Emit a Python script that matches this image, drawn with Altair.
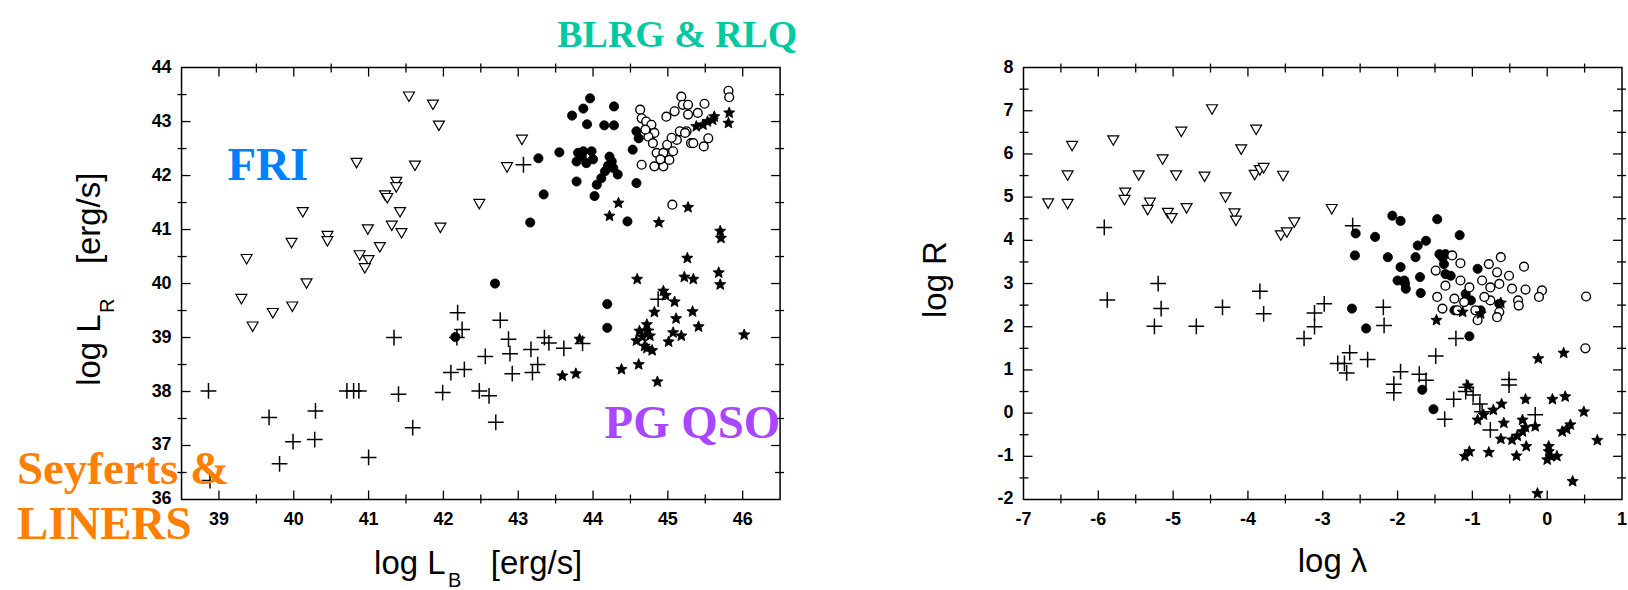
import altair as alt
import pandas as pd

# ---------------- data: left panel (log L_B, log L_R) ----------------
FRI_LB = [41.54, 41.86, 41.94, 43.05, 40.84, 41.62, 42.85, 41.37, 41.37, 41.22, 41.25, 42.48, 40.12, 41.42,
          41.31, 40.99, 41.96, 41.44, 40.45, 40.45, 39.97, 41.15, 40.88, 41.00, 40.95, 39.37, 40.17, 39.30,
          39.72, 39.98, 39.45]
FRI_LR = [43.46, 43.31, 42.92, 42.66, 42.23, 42.18, 42.15, 41.88, 41.78, 41.63, 41.58, 41.47, 41.32, 41.32,
          41.07, 41.00, 41.03, 40.93, 40.88, 40.78, 40.75, 40.67, 40.52, 40.43, 40.28, 40.45, 40.00, 39.71,
          39.45, 39.57, 39.20]

SEY_LB = [38.86, 39.67, 40.29, 39.99, 40.28, 39.81, 38.88, 40.71, 40.80, 40.87, 41.34, 41.40, 41.59, 41.00,
          41.99, 42.19, 42.25, 42.18, 42.10, 42.28, 42.56, 42.48, 42.61, 42.70, 42.76, 42.87, 42.89, 43.17,
          43.35, 43.41, 43.61, 43.86, 43.26, 43.19, 42.92, 44.87, 44.71, 43.07]
SEY_LR = [38.01, 37.52, 37.64, 37.07, 37.11, 36.66, 36.35, 38.01, 38.01, 38.01, 39.00, 37.95, 37.33, 36.78,
          37.98, 39.46, 39.15, 39.00, 38.35, 38.41, 38.65, 38.01, 37.92, 37.43, 39.32, 38.97, 38.70, 38.78,
          39.00, 38.90, 38.80, 38.89, 38.50, 38.35, 38.33, 39.71, 39.15, 42.20]

BLRG_LB = [43.96, 43.87, 43.72, 44.28, 43.92, 44.15, 44.28, 44.58, 44.61, 44.53, 43.27, 43.55, 43.80, 43.87,
           43.98, 43.78, 43.91, 44.22, 44.25, 44.27, 44.16, 44.11, 44.05, 44.33, 43.78, 44.02, 44.58, 44.46,
           43.34, 43.16, 42.69, 44.19, 44.19, 42.16, 43.85, 44.20, 44.00]
BLRG_LR = [43.43, 43.24, 43.11, 43.28, 42.95, 42.93, 42.93, 42.82, 42.69, 42.48, 42.32, 42.43, 42.42, 42.45,
           42.45, 42.26, 42.23, 42.35, 42.26, 42.14, 42.08, 41.95, 41.83, 42.02, 41.89, 41.62, 41.86, 41.15,
           41.65, 41.13, 40.00, 39.62, 39.18, 39.01, 42.35, 42.18, 42.30]

RLQ_LB = [44.63, 44.65, 44.71, 44.78, 44.82, 44.74, 44.80, 44.85, 44.94, 44.99, 45.07, 45.12, 45.16, 45.25,
          45.31, 44.82, 44.94, 44.65, 45.02, 44.98, 45.09, 45.18, 45.20, 45.27, 45.27, 45.40, 45.49, 45.54,
          45.48, 45.81, 45.82, 45.06, 45.23, 45.34, 44.90, 44.70, 45.05]
RLQ_LR = [43.22, 43.06, 43.00, 42.94, 42.79, 42.72, 42.60, 42.42, 42.42, 42.57, 42.45, 42.66, 42.82, 42.82,
          42.60, 42.17, 42.17, 42.20, 42.29, 43.09, 43.19, 43.46, 43.31, 43.31, 43.13, 43.16, 43.33, 42.69,
          42.54, 43.57, 43.45, 41.46, 42.79, 42.60, 42.30, 42.85, 42.70]

PGQ_LB = [44.34, 44.22, 44.88, 45.27, 45.70, 45.71, 45.82, 45.81, 45.60, 45.47, 45.38, 45.62, 45.26, 45.22,
          45.34, 44.59, 45.68, 45.70, 44.94, 44.97, 45.09, 44.82, 45.33, 45.11, 45.41, 44.62, 44.72, 44.66,
          44.76, 44.58, 44.69, 44.72, 44.79, 45.07, 45.18, 45.01, 46.02, 43.82, 44.61, 44.38, 43.59, 43.77,
          44.86, 44.72, 45.53]
PGQ_LR = [41.49, 41.25, 41.13, 41.41, 40.97, 40.84, 43.16, 42.97, 43.03, 42.94, 42.91, 43.09, 40.47, 40.12,
          40.08, 40.08, 40.20, 39.98, 39.86, 39.78, 39.66, 39.47, 39.48, 39.35, 39.20, 39.12, 39.12, 39.01,
          39.03, 38.94, 38.84, 38.80, 38.76, 39.09, 39.03, 38.92, 39.05, 38.97, 38.50, 38.41, 38.29, 38.33,
          38.18, 39.24, 43.00]

# ---------------- data: right panel (log lambda, log R) ----------------
FRI_LAM = [-6.67, -6.41, -6.41, -6.35, -5.80, -5.64, -5.65, -5.46, -5.31, -5.34, -5.14, -5.07, -5.02, -4.96,
           -4.89, -4.82, -4.58, -4.48, -4.30, -4.18, -4.16, -4.09, -3.89, -3.91, -3.84, -3.79, -3.53, -3.56,
           -3.48, -3.38, -2.88]
FRI_R = [4.85, 5.50, 4.84, 6.18, 6.31, 5.10, 4.93, 5.50, 4.87, 4.70, 5.87, 4.63, 4.51, 5.50, 6.51, 4.74, 5.47,
         7.03, 4.99, 4.62, 4.45, 6.10, 6.56, 5.51, 5.62, 5.67, 5.49, 4.11, 4.18, 4.41, 4.72]

SEY_LAM = [-5.92, -5.88, -5.20, -5.16, -5.25, -4.69, -4.34, -3.84, -3.79, -2.60, -2.98, -3.11, -3.11, -3.25,
           -2.19, -2.18, -1.22, -1.49, -2.64, -2.71, -2.80, -2.68, -2.40, -1.96, -2.05, -2.05, -1.71, -1.62,
           -1.25, -1.37, -1.09, -0.99, -0.90, -0.87, -0.76, -0.51, -0.51, -0.16, -1.08]
SEY_R = [4.30, 2.62, 3.00, 2.42, 2.01, 2.01, 2.45, 2.82, 2.30, 4.34, 2.53, 2.32, 2.00, 1.73, 2.45, 2.03, 1.73,
         1.32, 1.40, 1.15, 1.15, 0.93, 1.24, 0.96, 0.67, 0.47, 0.90, 0.76, 0.32, -0.14, 0.50, 0.42, 0.21, 0.03,
         -0.39, 0.78, 0.65, -0.04, 0.60]

BLRG_LAM = [-2.07, -1.96, -1.47, -1.17, -2.56, -2.30, -1.73, -1.62, -2.57, -2.13, -1.76, -1.96, -2.00, -1.91,
            -1.89, -1.70, -1.69, -1.44, -1.36, -1.38, -1.36, -1.29, -0.93, -1.09, -1.24, -1.02, -0.89, -0.64,
            -2.61, -2.42, -1.04, -1.67, -1.52, -1.40, -1.90]
BLRG_R = [4.57, 4.45, 4.49, 4.12, 4.16, 4.08, 3.88, 3.99, 3.65, 3.61, 3.61, 3.38, 3.07, 3.07, 2.88, 3.15, 2.78,
          3.68, 3.68, 3.45, 3.22, 3.18, 3.34, 2.76, 2.38, 2.61, 2.38, 2.53, 2.42, 1.96, 1.78, 0.54, 0.09, 3.60,
          3.00]

RLQ_LAM = [-1.27, -1.16, -0.62, -0.31, -1.49, -1.36, -1.16, -0.78, -0.67, -0.51, -0.87, -0.76, -0.64, -0.47,
           -0.29, -0.07, -0.11, -0.39, -0.38, -1.47, -1.40, -1.24, -1.11, -0.96, -0.93, -0.76, -0.64, -0.67,
           0.52, 0.51, -1.04, -0.84, -1.20]
RLQ_R = [3.65, 3.47, 3.61, 3.39, 3.30, 2.95, 3.07, 3.45, 3.26, 3.18, 3.07, 2.91, 2.99, 2.88, 2.86, 2.84, 2.69,
         2.61, 2.49, 2.69, 2.42, 2.65, 2.57, 2.38, 2.15, 2.61, 2.34, 2.22, 2.70, 1.50, 2.91, 2.69, 2.38]

PGQ_LAM = [-1.48, -0.12, 0.22, -1.13, -0.89, -0.62, -1.06, -1.10, -1.04, -0.78, -0.41, -0.28, -0.62, -0.47,
           -0.40, -0.33, -0.29, -0.16, -0.33, -0.58, -0.72, -0.61, -0.85, -0.93, -0.29, 0.07, 0.24, 0.49, 0.20,
           0.26, 0.31, 0.67, 0.02, 0.02, 0.05, 0.00, 0.13, 0.34, -0.13]
PGQ_R = [2.15, 1.26, 1.39, 2.34, 2.30, 2.55, 0.63, -1.00, -0.89, -0.91, -0.99, -0.77, -0.60, -0.62, -0.53,
         -0.43, -0.33, -0.31, -0.16, -0.23, 0.07, 0.21, -0.04, -0.16, 0.32, 0.32, 0.38, 0.03, -0.43, -0.37,
         -0.27, -0.63, -0.77, -0.89, -1.00, -1.08, -1.00, -1.58, -1.86]

# ---------------- axes ----------------
L_XDOM, L_YDOM = [38.5, 46.5], [36, 44]
L_XLAB = [39, 40, 41, 42, 43, 44, 45, 46]
L_YLAB = [36, 37, 38, 39, 40, 41, 42, 43, 44]
L_XMAJ = [39, 40, 41, 42, 43, 44, 45, 46]
L_XMIN = [39.5, 40.5, 41.5, 42.5, 43.5, 44.5, 45.5]
L_YMAJ = [37, 38, 39, 40, 41, 42, 43]
L_YMIN = [36.5, 37.5, 38.5, 39.5, 40.5, 41.5, 42.5, 43.5]

R_XDOM, R_YDOM = [-7, 1], [-2, 8]
R_XLAB = [-7, -6, -5, -4, -3, -2, -1, 0, 1]
R_YLAB = [-2, -1, 0, 1, 2, 3, 4, 5, 6, 7, 8]
R_XMAJ = [-6, -5, -4, -3, -2, -1, 0]
R_XMIN = [-6.5, -5.5, -4.5, -3.5, -2.5, -1.5, -0.5, 0.5]
R_YMAJ = [-1, 0, 1, 2, 3, 4, 5, 6, 7]
R_YMIN = [-1.5, -0.5, 0.5, 1.5, 2.5, 3.5, 4.5, 5.5, 6.5, 7.5]

W, H = 600, 433
SANS = "Liberation Sans"
SERIF = "Liberation Serif"
ONE = pd.DataFrame({"a": [0]})
PLUS = "M-1,0H1M0,-1V1"
STAR = ("M0,-1L0.265,-0.364L0.951,-0.309L0.428,0.139L0.588,0.809L0,0.45L-0.588,0.809"
        "L-0.428,0.139L-0.951,-0.309L-0.265,-0.364Z")


def xy(xs, ys):
    return pd.DataFrame({"x": xs, "y": ys})


def tick_layers(xs, ys, xmaj, xmin, ymaj, ymin, xlab, ylab):
    out = []
    dx_maj, dx_min = pd.DataFrame({"v": xmaj}), pd.DataFrame({"v": xmin})
    dy_maj, dy_min = pd.DataFrame({"v": ymaj}), pd.DataFrame({"v": ymin})
    rule = dict(color="black", strokeWidth=1.3)
    X = alt.X("v:Q", scale=xs, axis=None)
    Y = alt.Y("v:Q", scale=ys, axis=None)
    for d, a, b in [(dx_maj, H, H - 9), (dx_maj, 0, 9), (dx_min, H + 4, H - 5), (dx_min, -4, 5)]:
        out.append(alt.Chart(d).mark_rule(**rule).encode(x=X, y=alt.value(a), y2=alt.value(b)))
    for d, a, b in [(dy_maj, 0, 9), (dy_maj, W, W - 9), (dy_min, -4, 5), (dy_min, W + 4, W - 5)]:
        out.append(alt.Chart(d).mark_rule(**rule).encode(y=Y, x=alt.value(a), x2=alt.value(b)))
    lab = dict(font=SANS, fontSize=18, fontWeight="bold", color="black")
    dxl = pd.DataFrame({"v": xlab, "t": [str(v) for v in xlab]})
    dyl = pd.DataFrame({"v": ylab, "t": [str(v) for v in ylab]})
    out.append(alt.Chart(dxl).mark_text(align="center", baseline="top", **lab).encode(
        x=X, y=alt.value(H + 12), text="t:N"))
    out.append(alt.Chart(dyl).mark_text(align="right", baseline="middle", **lab).encode(
        y=Y, x=alt.value(-10), text="t:N"))
    return out


def text_layer(txt, x, y, size, color="black", font=SANS, weight="normal", angle=0, align="left"):
    return alt.Chart(ONE).mark_text(text=txt, font=font, fontSize=size, fontWeight=weight, color=color,
                                    align=align, baseline="alphabetic", angle=angle).encode(
        x=alt.value(x), y=alt.value(y))


def panel(xdom, ydom, xlab, ylab, xmaj, xmin, ymaj, ymin, groups, texts, extra=()):
    xs = alt.Scale(domain=xdom, nice=False, zero=False)
    ys = alt.Scale(domain=ydom, nice=False, zero=False)
    layers = tick_layers(xs, ys, xmaj, xmin, ymaj, ymin, xlab, ylab)
    for (gx, gy, style) in groups:
        layers.append(alt.Chart(xy(gx, gy)).mark_point(opacity=1, **style).encode(
            x=alt.X("x:Q", scale=xs, axis=None), y=alt.Y("y:Q", scale=ys, axis=None)))
    for t in texts:
        layers.append(text_layer(*t[:4], **(t[4] if len(t) > 4 else {})))
    layers.extend(extra)
    return alt.layer(*layers).properties(width=W, height=H)


S_TRI = dict(shape="triangle-down", filled=True, fill="white", stroke="black", strokeWidth=1.2, size=120)
S_PLUS = dict(shape=PLUS, filled=False, stroke="black", strokeWidth=1.5, size=250)
S_DOT = dict(shape="circle", filled=True, fill="black", stroke="black", strokeWidth=0.8, size=85)
S_OPEN = dict(shape="circle", filled=True, fill="white", stroke="black", strokeWidth=1.4, size=78)
S_STAR = dict(shape=STAR, filled=True, fill="black", stroke="black", strokeWidth=0.8, size=140)

BIG = 47
left_texts = [
    ("log L", -82, 319, 33, dict(angle=270)),
    ("R", -68, 246, 20, dict(angle=270)),
    ("[erg/s]", -82, 197, 33, dict(angle=270)),
    ("log L", 193, 508, 33),
    ("B", 267, 521, 20),
    ("[erg/s]", 310, 508, 33),
    ("BLRG & RLQ", 497, -21, 38, dict(color="#00C8A0", font=SERIF, weight="bold", align="center")),
    ("FRI", 46, 113, BIG, dict(color="#0080FF", font=SERIF, weight="bold")),
    ("PG QSO", 424, 371, BIG, dict(color="#A847FF", font=SERIF, weight="bold")),
    ("Seyferts &", -165, 417, BIG, dict(color="#FF8000", font=SERIF, weight="bold")),
    ("LINERS", -165, 473, BIG, dict(color="#FF8000", font=SERIF, weight="bold")),
]
right_texts = [
    ("log R", -78, 251, 33, dict(angle=270)),
    ("log \u03bb", 275, 506, 33),
]

anchor = alt.Chart(ONE).mark_rule(strokeOpacity=0).encode(
    x=alt.value(-181), x2=alt.value(-181), y=alt.value(-66), y2=alt.value(-65))

left = panel(L_XDOM, L_YDOM, L_XLAB, L_YLAB, L_XMAJ, L_XMIN, L_YMAJ, L_YMIN,
             [(FRI_LB, FRI_LR, S_TRI), (SEY_LB, SEY_LR, S_PLUS), (BLRG_LB, BLRG_LR, S_DOT),
              (RLQ_LB, RLQ_LR, S_OPEN), (PGQ_LB, PGQ_LR, S_STAR)],
             left_texts, extra=[anchor])
right = panel(R_XDOM, R_YDOM, R_XLAB, R_YLAB, R_XMAJ, R_XMIN, R_YMAJ, R_YMIN,
              [(FRI_LAM, FRI_R, S_TRI), (SEY_LAM, SEY_R, S_PLUS), (BLRG_LAM, BLRG_R, S_DOT),
               (RLQ_LAM, RLQ_R, S_OPEN), (PGQ_LAM, PGQ_R, S_STAR)],
              right_texts)

chart = alt.hconcat(left, right, spacing=244, bounds="flush").properties(
    padding=0, background="white").configure_view(stroke="black", strokeWidth=1.5)

chart.save("out.html", embed_options={"renderer": "svg", "actions": False})
